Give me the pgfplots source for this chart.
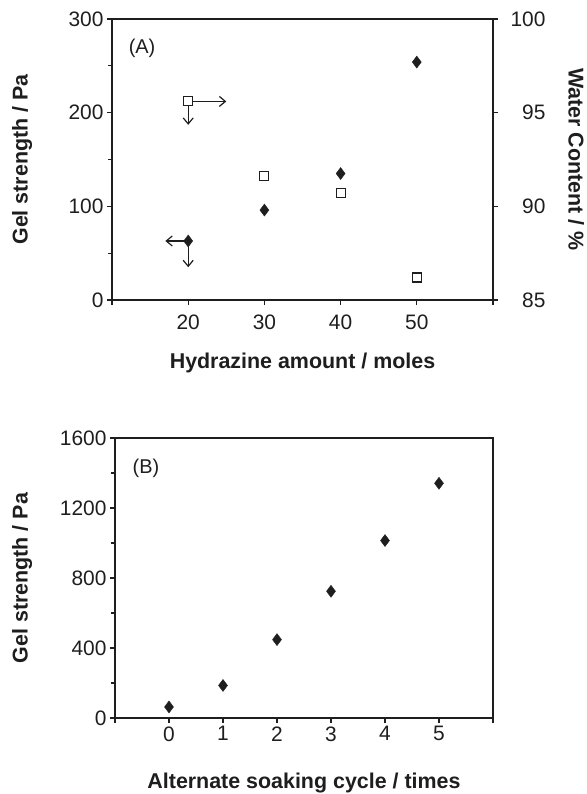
\documentclass[border=0pt]{standalone}
\usepackage{fontspec}
\setmainfont{Liberation Sans}
\usepackage{pgfplots}
\pgfplotsset{compat=1.18}
\usetikzlibrary{arrows.meta}
\definecolor{ink}{HTML}{1E1E1E}
\pgfplotsset{
  myaxis/.style={
    scale only axis,
    axis line style={ink, line width=1.3bp},
    tick style={ink, line width=1.2bp},
    tick align=outside,
    major tick length=5bp,
    minor tick length=3.5bp,
    tick label style={font=\fontsize{21}{25}\selectfont, text=ink},
    label style={font=\bfseries\fontsize{21.5}{26}\selectfont, text=ink},
    /pgf/number format/assume math mode=true,
    /pgf/number format/1000 sep={},
    clip=false,
  },
  arr/.style={ink, line width=1.2bp, -{Straight Barb[length=6bp,width=10bp,line width=1.2bp]}},
}
\begin{document}
\begin{tikzpicture}
\useasboundingbox (0,0) rectangle (587bp,794bp);
% ---------- Panel A, left axis ----------
\begin{axis}[myaxis,
  at={(112bp,494bp)}, anchor=south west, width=381bp, height=281bp,
  xmin=10, xmax=60, ymin=0, ymax=300,
  xtick={10,20,30,40,50,60}, xticklabels={,20,30,40,50,},
  xticklabel style={yshift=-6bp},
  ytick={0,100,200,300}, minor ytick={50,150,250},
  xtick pos=left, ytick pos=left,
  xlabel={Hydrazine amount / moles}, ylabel={Gel strength / Pa},
  xlabel style={at={(axis description cs:0.5,-0.224)}, anchor=center},
  ylabel style={at={(axis description cs:-0.236,0.5)}, anchor=center},
]
\addplot[arr] coordinates {(20,63) (17,63)};
\addplot[arr] coordinates {(20,63) (20,35)};
\addplot[only marks, mark=diamond*, mark size=6bp, ink, mark options={fill=ink}]
  coordinates {(20,63) (30,96) (40,135) (50,254)};
\node[font=\fontsize{20}{24}\selectfont, text=ink] at (axis description cs:0.079,0.897) {(A)};
\end{axis}
% ---------- Panel A, right axis ----------
\begin{axis}[myaxis,
  at={(112bp,494bp)}, anchor=south west, width=381bp, height=281bp,
  xmin=10, xmax=60, ymin=85, ymax=100,
  hide x axis, axis y line*=right,
  ytick={85,90,95,100},
  yticklabel style={anchor=east, xshift=51bp},
  ylabel={Water Content / \%},
  ylabel style={at={(axis description cs:1.218,0.5)}, anchor=center, rotate=180},
]
\addplot[arr] coordinates {(20,95.6) (25,95.6)};
\addplot[arr] coordinates {(20,95.6) (20,94.35)};
\addplot[only marks, mark=square*, mark size=4.5bp, ink, mark options={fill=white, line width=1.1bp}]
  coordinates {(20,95.6) (30,91.6) (40,90.7) (50,86.2)};
\end{axis}
% ---------- Panel B ----------
\begin{axis}[myaxis,
  at={(115bp,76bp)}, anchor=south west, width=378bp, height=280bp,
  xmin=-1, xmax=6, ymin=0, ymax=1600,
  xtick={-1,0,1,2,3,4,5,6}, xticklabels={,0,1,2,3,4,5,},
  ytick={0,400,800,1200,1600}, minor ytick={200,600,1000,1400},
  xtick pos=left, ytick pos=left,
  xlabel={Alternate soaking cycle / times}, ylabel={Gel strength / Pa},
  xlabel style={at={(axis description cs:0.5,-0.232)}, anchor=center},
  ylabel style={at={(axis description cs:-0.246,0.5)}, anchor=center},
]
\addplot[only marks, mark=diamond*, mark size=6bp, ink, mark options={fill=ink}]
  coordinates {(0,63) (1,186) (2,448) (3,724) (4,1014) (5,1341)};
\node[font=\fontsize{20}{24}\selectfont, text=ink] at (axis description cs:0.082,0.893) {(B)};
\end{axis}
\end{tikzpicture}
\end{document}
